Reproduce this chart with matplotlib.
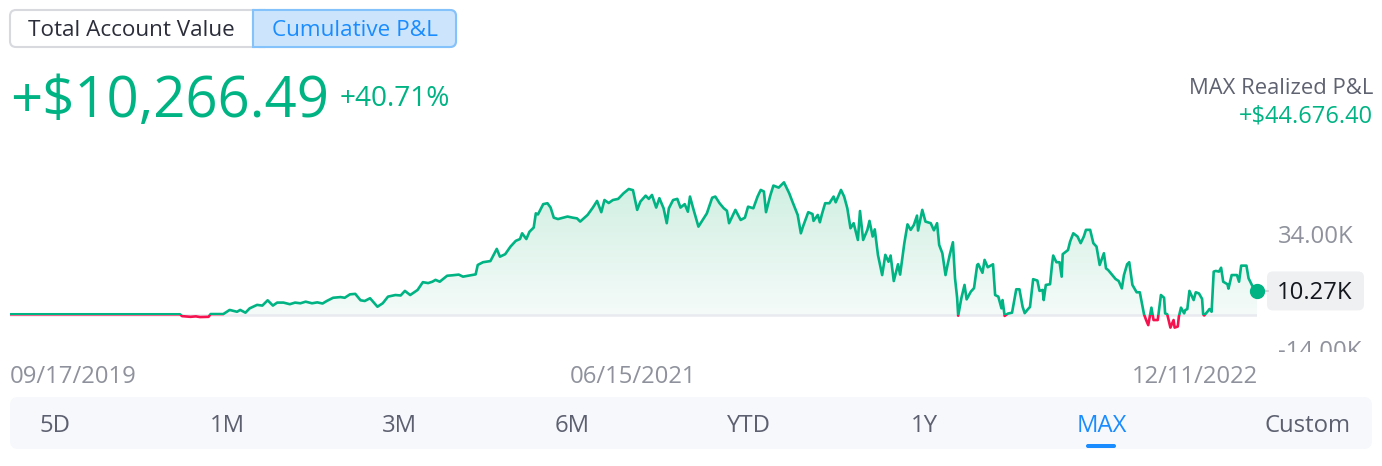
import numpy as np
import matplotlib
matplotlib.use("Agg")
import matplotlib.pyplot as plt
from matplotlib.patches import FancyBboxPatch, Rectangle, Polygon
from matplotlib.colors import LinearSegmentedColormap

plt.rcParams['font.family'] = ['Open Sans', 'DejaVu Sans']

# cumulative P&L, days since 09/17/2019 -> value in thousands of $
days = [0, 47, 104, 152, 161, 163, 171, 176, 180, 188,
        190, 202, 208, 215, 218, 223, 227, 234, 239, 244,
        249, 253, 259, 265, 270, 275, 280, 286, 291, 296,
        300, 306, 313, 317, 322, 327, 332, 336, 341, 348,
        353, 358, 365, 370, 374, 379, 386, 391, 396, 400,
        403, 407, 414, 419, 425, 429, 436, 441, 443, 448,
        455, 461, 464, 469, 474, 479, 483, 485, 489, 492,
        496, 498, 500, 505, 509, 512, 515, 519, 528, 533,
        537, 540, 547, 552, 556, 560, 563, 567, 571, 576,
        581, 586, 590, 594, 597, 602, 605, 608, 612, 615,
        619, 622, 624, 628, 632, 635, 639, 642, 644, 647,
        652, 657, 660, 665, 668, 672, 676, 679, 681, 687,
        692, 696, 699, 704, 708, 711, 714, 716, 720, 723,
        728, 733, 738, 741, 746, 749, 751, 756, 760, 761,
        765, 767, 769, 772, 776, 780, 782, 785, 787, 790,
        793, 796, 799, 803, 805, 808, 812, 814, 817, 819,
        822, 826, 829, 832, 834, 837, 841, 843, 847, 850,
        853, 856, 859, 860, 864, 867, 872, 875, 878, 880,
        883, 886, 888, 890, 893, 895, 897, 898, 901, 904,
        906, 910, 913, 916, 917, 921, 923, 926, 931, 933,
        936, 939, 940, 942, 945, 949, 950, 953, 956, 959,
        961, 964, 966, 969, 973, 975, 978, 979, 981, 985,
        987, 988, 991, 994, 996, 997, 1002, 1004, 1007, 1011,
        1014, 1017, 1019, 1023, 1026, 1029, 1032, 1036, 1038, 1040,
        1044, 1047, 1050, 1053, 1055, 1058, 1060, 1063, 1067, 1070,
        1074, 1076, 1078, 1081, 1083, 1087, 1090, 1093, 1094, 1096,
        1099, 1102, 1103, 1106, 1107, 1109, 1112, 1113, 1115, 1117,
        1121, 1123, 1126, 1129, 1130, 1131, 1134, 1136, 1138, 1140,
        1142, 1145, 1147, 1149, 1153, 1154, 1157, 1162, 1164, 1166,
        1171, 1173, 1177, 1181]
pnl_k = [0.3, 0.3, 0.3, 0.3, 0.3, -0.5, -0.8, -0.6, -0.9, -0.8,
         0.4, 0.4, 2.2, 1.4, 2.2, 1.0, 2.9, 4.4, 4.1, 6.4,
         4.1, 5.4, 5.4, 4.7, 5.4, 5.1, 5.8, 5.1, 5.5, 5.0,
         6.1, 7.5, 7.8, 7.5, 9.0, 9.2, 6.4, 6.1, 7.3, 3.6,
         5.1, 8.0, 8.7, 8.5, 10.5, 8.7, 10.9, 14.3, 13.9, 14.5,
         15.3, 14.5, 17.1, 17.3, 17.6, 16.7, 17.3, 17.7, 21.8, 23.0,
         23.5, 28.8, 25.4, 26.5, 29.8, 32.3, 33.1, 35.6, 33.1, 36.3,
         38.1, 44.3, 43.8, 48.3, 48.7, 46.8, 42.4, 41.8, 42.9, 42.4,
         42.1, 40.7, 43.6, 46.8, 49.7, 44.8, 50.1, 48.8, 50.1, 50.6,
         53.0, 54.9, 54.4, 45.8, 49.4, 52.0, 50.6, 52.3, 46.8, 50.9,
         46.5, 40.0, 46.5, 50.1, 50.6, 46.8, 48.3, 45.0, 51.6, 46.5,
         38.5, 42.1, 44.3, 51.1, 51.6, 48.7, 46.5, 45.4, 40.0, 45.8,
         41.4, 42.4, 47.2, 46.5, 51.6, 54.5, 53.8, 44.8, 52.0, 56.4,
         55.5, 57.8, 53.0, 49.4, 43.6, 35.6, 38.5, 44.8, 44.0, 41.0,
         43.6, 40.4, 44.0, 48.7, 48.7, 51.6, 49.1, 52.3, 54.5, 51.6,
         46.5, 37.8, 40.0, 32.7, 45.3, 32.7, 37.1, 41.0, 34.2, 37.3,
         26.2, 17.4, 26.2, 23.2, 25.9, 14.8, 22.1, 17.6, 31.3, 39.5,
         37.1, 39.2, 43.3, 36.8, 45.8, 40.7, 40.0, 36.9, 40.0, 30.5,
         26.9, 17.4, 22.0, 26.2, 31.7, 16.0, 7.5, -0.3, 7.3, 13.1,
         6.8, 10.2, 11.7, 21.8, 22.2, 18.4, 24.0, 20.8, 22.1, 8.7,
         8.0, 2.9, 6.5, -0.4, 0.6, 1.0, 3.6, 11.2, 11.2, 3.6,
         0.8, 2.5, 3.5, 15.6, 15.0, 10.5, 10.9, 6.5, 13.1, 13.4,
         22.5, 25.9, 23.0, 23.0, 16.7, 26.5, 28.3, 32.0, 35.6, 34.2,
         31.3, 34.2, 37.1, 37.1, 31.3, 29.8, 21.8, 26.9, 20.3, 19.6,
         17.4, 15.7, 14.8, 11.6, 17.4, 22.1, 23.0, 13.1, 9.9, 9.9,
         0.3, -2.2, -4.4, 3.2, -2.2, -2.2, 8.7, 7.5, 0.7, 0.3,
         -5.5, -2.2, -5.5, -5.0, -0.7, 3.2, 0.7, 2.1, 2.6, 10.5,
         6.5, 9.9, 9.4, 7.0, 0.3, -0.2, 1.4, 2.6, 1.4, 18.9,
         19.2, 18.9, 20.6, 14.5, 13.4, 11.5, 17.4, 17.4, 14.5, 21.5,
         21.5, 16.0, 12.3, 10.27]

y_ticks = [34.0, -14.0]
y_tick_labels = ['34.00K', '-14.00K']
date_labels = ['09/17/2019', '06/15/2021', '12/11/2022']
periods = ['5D', '1M', '3M', '6M', 'YTD', '1Y', 'MAX', 'Custom']
active_period = 'MAX'
toggle_labels = ['Total Account Value', 'Cumulative P&L']
total_pnl = '+$10,266.49'
total_pct = '+40.71%'
realized_title = 'MAX Realized P&L'
realized_value = '+$44.676.40'
last_label = '10.27K'

GREEN = '#00b383'
RED = '#f5124f'
BLUE = '#1a8cff'
GREY_TXT = '#8f929c'
DARK = '#2b2d3a'
FS = 17.2

W, H = 1382, 466
fig = plt.figure(figsize=(W / 100, H / 100), dpi=100)
fig.patch.set_facecolor('white')

# full-figure canvas in pixel units for the surrounding widgets
cv = fig.add_axes([0, 0, 1, 1])
cv.set_xlim(0, W)
cv.set_ylim(H, 0)
cv.axis('off')

# chart area
ax = fig.add_axes([10 / W, 1 - 345 / H, 1247 / W, 170 / H])
ax.set_xlim(0, 1181)
ax.set_ylim(-13.08, 61.0)
ax.axis('off')

x = np.array(days)
y = np.array(pnl_k)

# gradient fill under the curve
cmap = LinearSegmentedColormap.from_list('g', ['#f5fbf9', '#d0efe2'])
grad = np.linspace(0, 1, 256).reshape(-1, 1)
img = ax.imshow(grad, extent=[0, 1181, 0, 58], origin='lower', aspect='auto',
                cmap=cmap, zorder=1)
verts = np.column_stack([np.r_[x[0], x, x[-1]], np.r_[0, y, 0]])
clip_poly = Polygon(verts, closed=True, transform=ax.transData, fc='none', ec='none')
ax.add_patch(clip_poly)
img.set_clip_path(clip_poly)

ax.axhline(0, color='#e8eaef', lw=1.8, zorder=2)

# line: green above zero, red below zero
up, = ax.plot(x, y, color=GREEN, lw=1.9, zorder=3, solid_joinstyle='round')
up.set_clip_path(Rectangle((0, 0), 1181, 100, transform=ax.transData))
dn, = ax.plot(x, y, color=RED, lw=1.9, zorder=3, solid_joinstyle='round')
dn.set_clip_path(Rectangle((0, -100), 1181, 100, transform=ax.transData))

ax.plot(x[-1], y[-1], 'o', ms=10, color=GREEN, zorder=4, clip_on=False)

fig.canvas.draw()


def to_px(xv, yv):
    px, py = ax.transData.transform((xv, yv))
    return px, H - py


# y tick labels (the lower one is cut off by the date strip)
for val, lab, off in zip(y_ticks, y_tick_labels, [6, 11]):
    _, py = to_px(0, val)
    t = cv.text(1278, py + off, lab, fontsize=FS, color=GREY_TXT, ha='left',
                va='baseline', clip_on=True)
    t.set_clip_path(Rectangle((1200, 150), 180, 202, transform=cv.transData))

# last value badge
ex, ey = to_px(x[-1], y[-1])
cv.plot([ex + 6, ex + 11], [ey, ey], color='#c9cbd1', lw=1.2)
cv.add_patch(FancyBboxPatch((1267, ey - 20), 97, 39,
                            boxstyle='round,pad=0,rounding_size=6',
                            fc='#eff0f2', ec='none'))
cv.text(1315, ey + 8, last_label, fontsize=FS, color='#15171f', ha='center', va='baseline')

# date labels
cv.text(10, 383, date_labels[0], fontsize=FS, color=GREY_TXT, ha='left', va='baseline')
cv.text(633, 383, date_labels[1], fontsize=FS, color=GREY_TXT, ha='center', va='baseline')
cv.text(1258, 383, date_labels[2], fontsize=FS, color=GREY_TXT, ha='right', va='baseline')

# toggle buttons
cv.add_patch(FancyBboxPatch((10, 10), 446, 37, boxstyle='round,pad=0,rounding_size=6',
                            fc='white', ec='#d7d9df', lw=1.5))
cv.add_patch(FancyBboxPatch((253, 10), 203, 37, boxstyle='round,pad=0,rounding_size=6',
                            fc='#cce5fd', ec='#84c2fb', lw=1.5))
cv.add_patch(Rectangle((253, 10.8), 12, 35.4, fc='#cce5fd', ec='none'))
cv.plot([253, 265], [10, 10], color='#84c2fb', lw=1.5, solid_capstyle='butt')
cv.plot([253, 265], [47, 47], color='#84c2fb', lw=1.5, solid_capstyle='butt')
cv.plot([253, 253], [10, 47], color='#84c2fb', lw=1.5)
cv.text(131, 36.5, toggle_labels[0], fontsize=16.2, color=DARK, ha='center', va='baseline')
cv.text(355, 36.5, toggle_labels[1], fontsize=16.2, color=BLUE, ha='center', va='baseline')

# headline numbers
cv.text(10, 117, total_pnl, fontsize=40.5, color=GREEN, ha='left', va='baseline')
cv.text(340, 106, total_pct, fontsize=20.2, color=GREEN, ha='left', va='baseline')
cv.text(1373, 94, realized_title, fontsize=15.8, color='#5f6270', ha='right', va='baseline')
cv.text(1373, 123, realized_value, fontsize=17, color=GREEN, ha='right', va='baseline')

# period selector
cv.add_patch(FancyBboxPatch((10, 397), 1362, 52, boxstyle='round,pad=0,rounding_size=8',
                            fc='#f7f8fb', ec='none'))
period_x = [55, 227, 399, 572, 749, 924, 1102, 1308]
for px, lab in zip(period_x, periods):
    col = BLUE if lab == active_period else '#5d6070'
    cv.text(px, 432, lab, fontsize=FS, color=col, ha='center', va='baseline')
cv.add_patch(FancyBboxPatch((1086, 444), 30, 4, boxstyle='round,pad=0,rounding_size=2',
                            fc=BLUE, ec='none'))

fig.savefig('out.png', dpi=100, facecolor='white')
